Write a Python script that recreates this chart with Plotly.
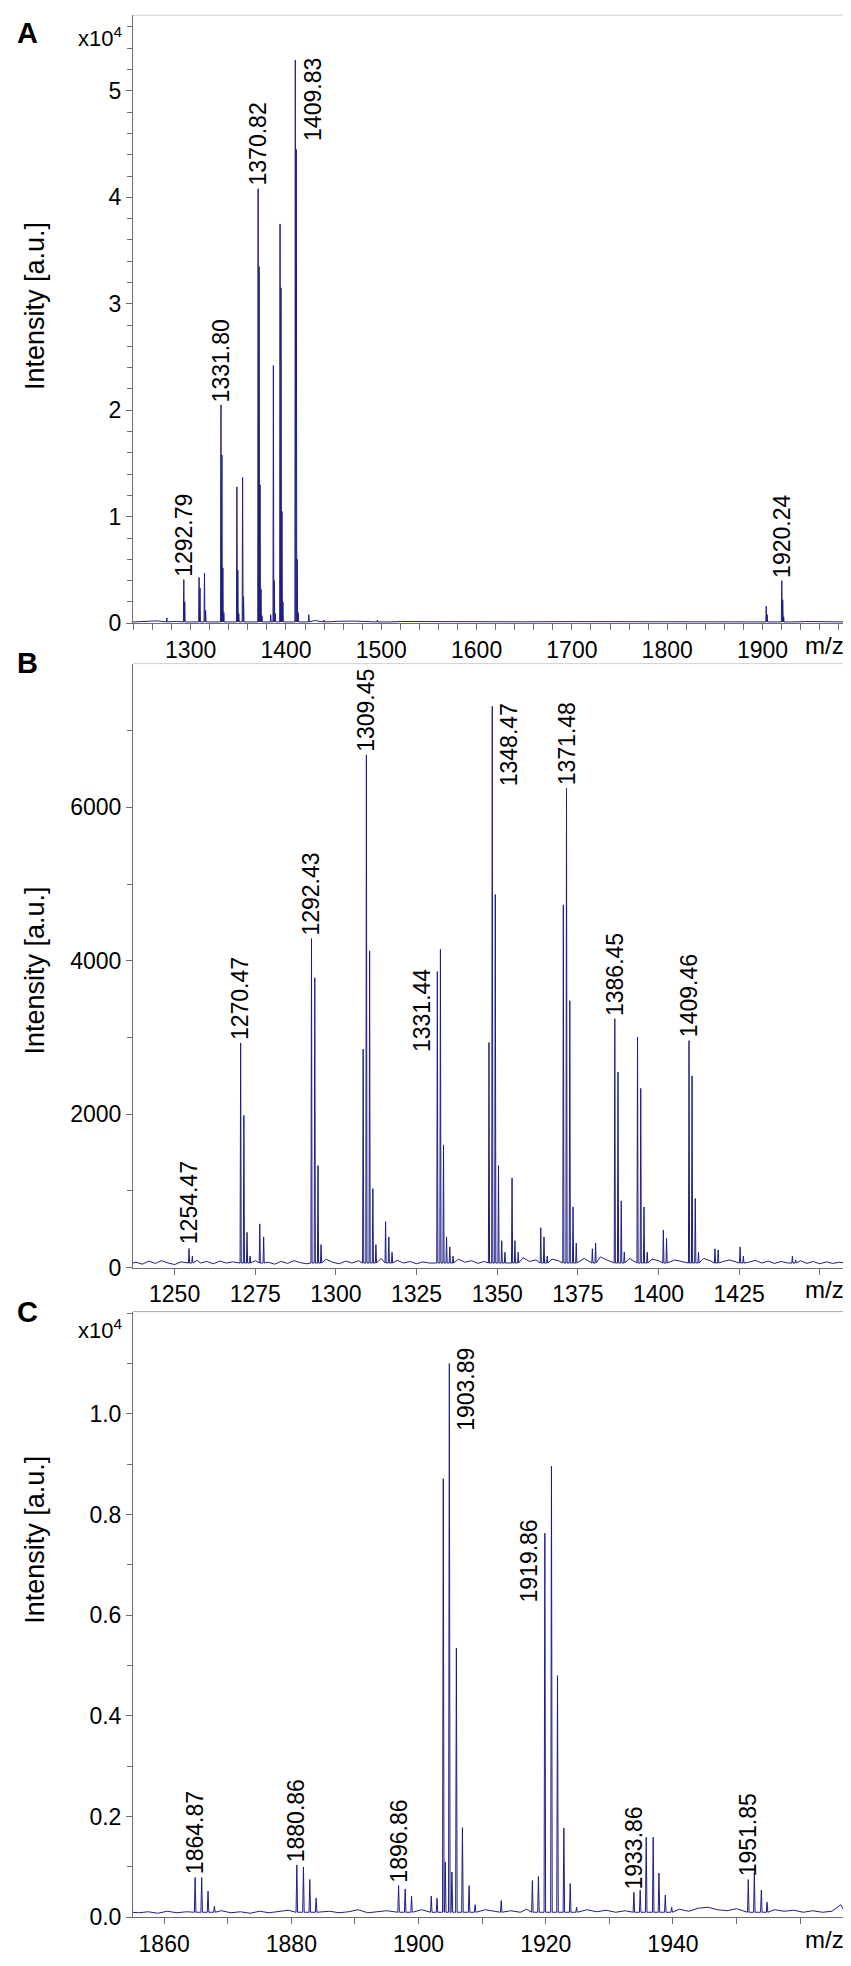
import plotly.graph_objects as go

W, H = 851, 1966
FONT = "Arial, Liberation Sans, Helvetica, sans-serif"
SPEC = "#1e1e82"
AXIS = "#6e6e6e"
FRAME = "#cfcfcf"

# ---------------- data (m/z, intensity in counts) ----------------
# panel A : full range
A_PEAK_MZ = [1275.0, 1292.8, 1293.8, 1308.8, 1309.8, 1314.5, 1315.7,
             1331.8, 1332.8, 1333.8, 1334.8, 1348.5, 1349.5, 1350.5,
             1354.5, 1355.5, 1370.8, 1371.8, 1372.8, 1373.8, 1374.8,
             1384.0, 1386.8, 1387.8, 1388.8, 1393.8, 1394.8, 1395.8, 1396.8,
             1409.8, 1410.8, 1411.8, 1412.8, 1424.0, 1440.0, 1496.0, 1512.0,
             1903.9, 1904.9, 1920.2, 1921.2, 1922.2, 1936.0]
A_PEAK_INT = [500, 4100, 2000, 4300, 3300, 4700, 1200,
              20500, 15800, 5200, 1000, 12800, 5000, 900,
              13700, 2500, 40800, 33500, 13000, 3200, 700,
              800, 24200, 4000, 900, 37500, 31500, 10500, 2000,
              52900, 44500, 6000, 1000, 800, 300, 300, 200,
              1600, 800, 4000, 2200, 600, 200]
A_NOISE_MZ = [1239.5, 1255, 1265, 1285, 1430, 1455, 1470, 1520, 1560, 1600,
              1650, 1700, 1750, 1800, 1850, 1890, 1945, 1960, 1985.5]
A_NOISE_INT = [120, 160, 220, 180, 250, 180, 200, 160, 140, 150,
               130, 150, 140, 130, 150, 140, 160, 130, 120]
A_LABEL_TEXT = ["1292.79", "1331.80", "1370.82", "1409.83", "1920.24"]
A_LABEL_MZ = [1292.79, 1331.80, 1370.82, 1409.83, 1920.24]
A_LABEL_INT = [4100, 20500, 40800, 45000, 4000]
A_XTICKS = [1300, 1400, 1500, 1600, 1700, 1800, 1900]
A_YTICKS = [0, 10000, 20000, 30000, 40000, 50000]
A_YTICK_TEXT = ["0", "1", "2", "3", "4", "5"]

# panel B : zoom 1240-1455
B_PEAK_MZ = [1254.47, 1255.5, 1270.47, 1271.47, 1272.45, 1273.4, 1276.4, 1277.6,
             1292.43, 1293.45, 1294.45, 1295.4,
             1308.45, 1309.45, 1310.45, 1311.45, 1312.4, 1315.4, 1316.4, 1317.4,
             1331.44, 1332.4, 1333.35, 1334.3, 1335.3, 1336.3,
             1347.45, 1348.47, 1349.4, 1350.4, 1351.4, 1352.4, 1354.6, 1355.5, 1356.5,
             1363.5, 1364.5, 1365.5,
             1370.5, 1371.48, 1372.5, 1373.5, 1374.5, 1379.5, 1380.5,
             1386.45, 1387.45, 1388.45, 1389.4,
             1393.5, 1394.5, 1395.5, 1396.5, 1401.5, 1402.5,
             1409.46, 1410.4, 1411.4, 1412.4, 1417.5, 1418.5, 1425.3, 1426.3,
             1441.5, 1442.5]
B_PEAK_INT = [250, 150, 2930, 1985, 460, 150, 570, 400,
              4290, 3780, 1330, 300,
              2850, 6685, 4130, 1030, 300, 600, 400, 200,
              3860, 4150, 1600, 400, 270, 150,
              2935, 7320, 4865, 1330, 350, 200, 1170, 350, 200,
              520, 400, 150,
              4730, 6250, 3480, 790, 320, 245, 320,
              3245, 2550, 870, 200,
              3005, 2337, 790, 200, 490, 380,
              2960, 2500, 900, 200, 245, 230, 270, 150,
              150, 100]
B_NOISE_MZ = [1237, 1238, 1240, 1242, 1244, 1246, 1248, 1250, 1252, 1257, 1258, 1260,
              1262, 1264, 1266, 1268, 1275, 1279, 1281, 1283, 1285, 1287, 1289,
              1291, 1297, 1299, 1301, 1303, 1305, 1307, 1314, 1319, 1321, 1323,
              1325, 1327, 1329, 1338, 1340, 1342, 1344, 1346, 1358, 1360, 1362,
              1367, 1369, 1377, 1382, 1384, 1391, 1398, 1400, 1405, 1407, 1414,
              1416, 1420, 1422, 1428, 1430, 1432, 1434, 1436, 1438, 1440, 1444,
              1446, 1448, 1450, 1452, 1454, 1456, 1458]
B_NOISE_INT = [60, 70, 45, 85, 55, 90, 60, 40, 75, 95, 60, 80,
               50, 85, 60, 75, 90, 70, 45, 80, 55, 90, 65,
               50, 110, 70, 50, 85, 60, 90, 120, 95, 60, 80,
               50, 75, 60, 110, 70, 90, 55, 80, 130, 80, 100,
               110, 90, 120, 140, 100, 120, 110, 90, 100, 80, 120,
               90, 80, 100, 70, 95, 60, 85, 55, 80, 60, 90,
               55, 80, 50, 75, 55, 70, 60]
B_LABEL_TEXT = ["1254.47", "1270.47", "1292.43", "1309.45", "1331.44",
                "1348.47", "1371.48", "1386.45", "1409.46"]
B_LABEL_MZ = [1254.47, 1270.47, 1292.43, 1309.45, 1331.44,
              1348.47, 1371.48, 1386.45, 1409.46]
B_LABEL_INT = [260, 2930, 4290, 6685, 2770, 6234, 6250, 3245, 2960]
B_XTICKS = [1250, 1275, 1300, 1325, 1350, 1375, 1400, 1425]
B_YTICKS = [0, 2000, 4000, 6000]
B_YTICK_TEXT = ["0", "2000", "4000", "6000"]

# panel C : zoom 1855-1967
C_PEAK_MZ = [1864.87, 1865.9, 1866.9, 1867.9, 1880.86, 1881.9, 1882.9, 1883.9,
             1896.86, 1897.9, 1898.9, 1902.0, 1902.9,
             1903.89, 1904.2, 1904.84, 1905.25, 1905.95, 1906.9, 1907.95, 1908.9,
             1913.0, 1917.9, 1918.85, 1919.86, 1920.9, 1921.85, 1922.85, 1923.85, 1924.85,
             1933.86, 1934.85, 1935.8, 1936.9, 1937.8, 1938.8, 1939.8,
             1951.85, 1952.8, 1953.9, 1954.8]
C_PEAK_INT = [790, 790, 520, 220, 1040, 1000, 750, 380,
              630, 560, 420, 420, 380,
              8710, 1100, 11000, 900, 5350, 1780, 630, 250,
              330, 730, 810, 7630, 8960, 4800, 1770, 670, 200,
              500, 540, 1590, 1590, 880, 440, 200,
              750, 880, 540, 300]
C_NOISE_MZ = [1855, 1856, 1857.5, 1859, 1860.5, 1862, 1863.5, 1869, 1870.5, 1872,
              1873.5, 1875, 1876.5, 1878, 1879.5, 1886, 1887.5, 1889, 1890.5, 1892,
              1893.5, 1895, 1900.5, 1910.5, 1912, 1914.5, 1916, 1917, 1926.5, 1928,
              1929.5, 1931, 1932.5, 1941, 1942.5, 1944, 1945.5, 1947, 1948.5, 1950,
              1956, 1957.5, 1959, 1960.5, 1962, 1963.5, 1965, 1966.4, 1967]
C_NOISE_INT = [100, 90, 110, 80, 120, 90, 110, 130, 90, 110,
               80, 120, 90, 110, 140, 120, 90, 110, 150, 90,
               110, 130, 150, 150, 120, 130, 100, 160, 150, 110,
               140, 100, 130, 160, 120, 180, 200, 150, 130, 170,
               150, 120, 140, 100, 130, 100, 120, 250, 110]
C_LABEL_TEXT = ["1864.87", "1880.86", "1896.86", "1903.89", "1919.86", "1933.86", "1951.85"]
C_LABEL_MZ = [1864.87, 1880.86, 1896.86, 1904.84, 1919.86, 1933.86, 1951.85]
C_LABEL_INT = [790, 1040, 630, 9600, 6200, 500, 750]
C_XTICKS = [1860, 1880, 1900, 1920, 1940]
C_YTICKS = [0, 2000, 4000, 6000, 8000, 10000]
C_YTICK_TEXT = ["0.0", "0.2", "0.4", "0.6", "0.8", "1.0"]


def px(x):
    return x / W


def py(y):
    return 1 - y / H


def spectrum(peak_mz, peak_int, noise_mz, noise_int, base, hw):
    """Peaks become narrow triangles on the baseline, noise points are joined as-is."""
    pts = [(m, v) for m, v in zip(noise_mz, noise_int)
           if all(abs(m - p) > 2 * hw for p in peak_mz)]
    for m, v in zip(peak_mz, peak_int):
        pts += [(m - hw, base), (m, v), (m + hw, base)]
    pts.sort()
    return [p[0] for p in pts], [p[1] for p in pts]


# panel geometry in page pixels
LEFT, RIGHT = 125, 836
PANELS = {
    "A": dict(top=7.3, bottom=619.3, xr=[1239.5, 1985.5], yr=[0, 57100]),
    "B": dict(top=660, bottom=1268, xr=[1237.1, 1457.5], yr=[0, 7875]),
    "C": dict(top=1312.3, bottom=1922, xr=[1855.1, 1966.9], yr=[0, 12030]),
}

fig = go.Figure()

traces = [
    (A_PEAK_MZ, A_PEAK_INT, A_NOISE_MZ, A_NOISE_INT, 120, 0.45),
    (B_PEAK_MZ, B_PEAK_INT, B_NOISE_MZ, B_NOISE_INT, 60, 0.18),
    (C_PEAK_MZ, C_PEAK_INT, C_NOISE_MZ, C_NOISE_INT, 100, 0.12),
]
for i, (pm, pi, nm, ni, base, hw) in enumerate(traces):
    x, y = spectrum(pm, pi, nm, ni, base, hw)
    sfx = "" if i == 0 else str(i + 1)
    fig.add_trace(go.Scatter(x=x, y=y, mode="lines", xaxis="x" + sfx, yaxis="y" + sfx,
                             line=dict(color=SPEC, width=1), hoverinfo="skip",
                             showlegend=False))

tickfont = dict(family=FONT, size=23, color="#000")


def xaxis(key, tickvals, minor_dtick, anchor):
    p = PANELS[key]
    return dict(domain=[px(LEFT), px(RIGHT)], range=p["xr"], anchor=anchor,
                tickmode="array", tickvals=tickvals, ticktext=[str(v) for v in tickvals],
                ticks="outside", ticklen=6, tickwidth=1, tickcolor=AXIS,
                showline=True, linecolor=AXIS, linewidth=1, showgrid=False, zeroline=False,
                tickfont=tickfont,
                minor=dict(tickmode="linear", tick0=tickvals[0], dtick=minor_dtick,
                           ticks="outside", ticklen=6, tickcolor=AXIS, showgrid=False))


def yaxis(key, tickvals, ticktext, minor_dtick, anchor):
    p = PANELS[key]
    return dict(domain=[py(p["bottom"]), py(p["top"])], range=p["yr"], anchor=anchor,
                tickmode="array", tickvals=tickvals, ticktext=ticktext,
                ticks="outside", ticklen=6, tickwidth=1, tickcolor=AXIS,
                showline=True, linecolor=AXIS, linewidth=1, showgrid=False, zeroline=False,
                tickfont=tickfont,
                minor=dict(tickmode="linear", tick0=0, dtick=minor_dtick, ticks="outside",
                           ticklen=5, tickcolor=AXIS, showgrid=False))


fig.update_layout(
    width=W, height=H, margin=dict(l=0, r=0, t=0, b=0),
    paper_bgcolor="white", plot_bgcolor="white", showlegend=False,
    font=dict(family=FONT, color="#000"),
    xaxis=xaxis("A", A_XTICKS, 20, "y"),
    yaxis=yaxis("A", A_YTICKS, A_YTICK_TEXT, 2000, "x"),
    # B: minor step equals the major one, so only the unlabeled tick under "m/z" is added
    xaxis2=xaxis("B", B_XTICKS, 25, "y2"),
    yaxis2=yaxis("B", B_YTICKS, B_YTICK_TEXT, 1000, "x2"),
    xaxis3=xaxis("C", C_XTICKS, 10, "y3"),
    yaxis3=yaxis("C", C_YTICKS, C_YTICK_TEXT, 1000, "x3"),
)

# frame: light top/right edges, right edge darker on A and C
shapes = []
for key, right_col, top_col in [("A", "#3a3a3a", FRAME), ("B", FRAME, FRAME), ("C", "#555", "#a8a8a8")]:
    p = PANELS[key]
    shapes.append(dict(type="line", xref="paper", yref="paper", layer="below",
                       x0=px(LEFT), x1=px(RIGHT), y0=py(p["top"]), y1=py(p["top"]),
                       line=dict(color=top_col, width=1)))
    shapes.append(dict(type="line", xref="paper", yref="paper", layer="below",
                       x0=px(RIGHT), x1=px(RIGHT), y0=py(p["top"]), y1=py(p["bottom"]),
                       line=dict(color=right_col, width=1)))
fig.update_layout(shapes=shapes)

ann = []
labelfont = dict(family=FONT, size=23, color="#000")
label_sets = [
    ("", A_LABEL_TEXT, A_LABEL_MZ, A_LABEL_INT, ["center", "center", "center", "left", "center"]),
    ("2", B_LABEL_TEXT, B_LABEL_MZ, B_LABEL_INT,
     ["center", "center", "center", "center", "right", "left", "center", "center", "center"]),
    ("3", C_LABEL_TEXT, C_LABEL_MZ, C_LABEL_INT,
     ["center", "center", "center", "left", "right", "center", "center"]),
]
for sfx, texts, xs, ys, aligns in label_sets:
    for t, x, y, a in zip(texts, xs, ys, aligns):
        shift = {"center": 0, "left": 2, "right": -1}[a]
        ann.append(dict(text=t, x=x, y=y, xref="x" + sfx, yref="y" + sfx, showarrow=False,
                        textangle=-90, xanchor=a, yanchor="bottom", xshift=shift, yshift=1,
                        font=labelfont))

# panel letters, axis titles and the m/z unit
for key, letter_y, title_y in [("A", 25, 300), ("B", 659, 969), ("C", 1313, 1542)]:
    p = PANELS[key]
    ann.append(dict(text="<b>%s</b>" % key, x=px(7), y=py(letter_y), xref="paper", yref="paper",
                    xanchor="left", yanchor="middle", showarrow=False,
                    font=dict(family=FONT, size=29, color="#000")))
    ann.append(dict(text="Intensity [a.u.]", x=px(27), y=py(title_y), xref="paper",
                    yref="paper", xanchor="center", yanchor="middle", textangle=-90,
                    showarrow=False, font=dict(family=FONT, size=27, color="#000")))
    ann.append(dict(text="m/z", x=px(838), y=py(p["bottom"] + 22), xref="paper", yref="paper",
                    xanchor="right", yanchor="middle", showarrow=False,
                    font=dict(family=FONT, size=24, color="#000")))
# x10^4 exponent markers on A and C
for y in (29, 1330):
    ann.append(dict(text="x10<sup>4</sup>", x=px(116), y=py(y), xref="paper", yref="paper",
                    xanchor="right", yanchor="middle", showarrow=False,
                    font=dict(family=FONT, size=22, color="#000")))

fig.update_layout(annotations=ann)

fig.write_html("out.html")
